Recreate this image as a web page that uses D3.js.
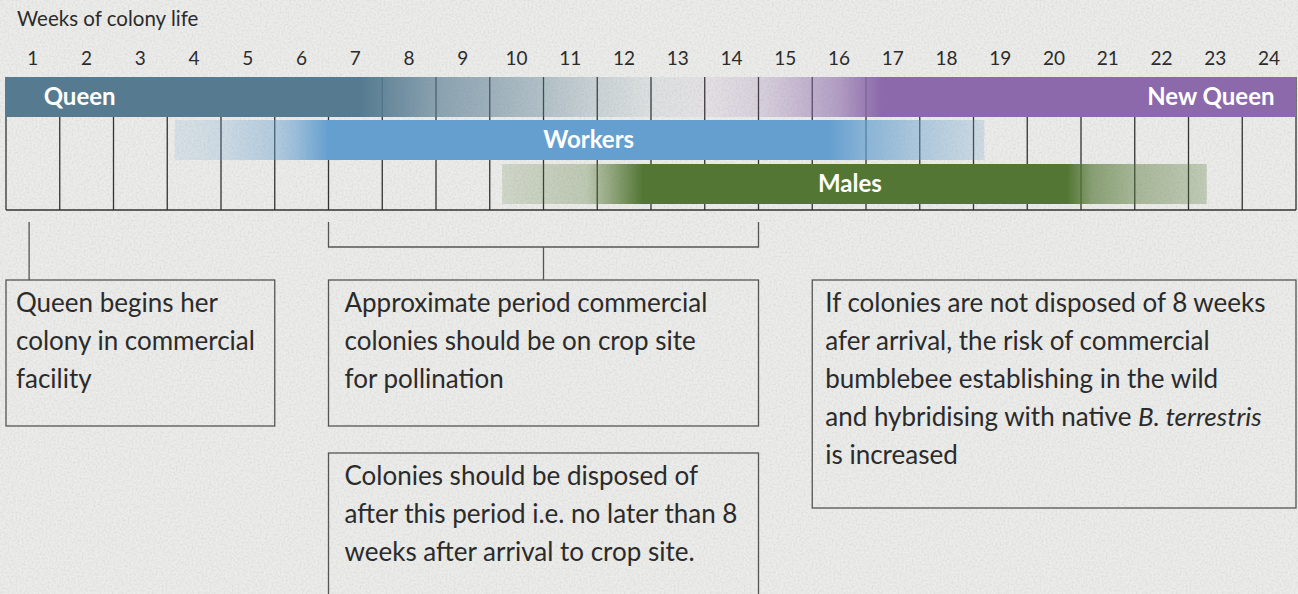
<!DOCTYPE html>
<html>
<head>
<meta charset="utf-8">
<script src="https://cdn.jsdelivr.net/npm/d3@7"></script>
<style>
  html, body { margin:0; padding:0; background:#e8e8e6; }
  svg { display:block; font-family: Lato, "Open Sans", sans-serif; }
</style>
</head>
<body>
<div id="chart"></div>
<script>
// week labels along the top
const weekLabels = ['1','2','3','4','5','6','7','8','9','10','11','12','13','14','15','16','17','18','19','20','21','22','23','24'];

// bars: [week position, opacity] stops
const queenStops = [[0,1],[6.6,1],[7.4,0.8],[8,0.65],[9,0.52],[10,0.38],[11,0.22],[12,0.1],[13,0]];
const newQueenStops = [[12,0],[13,0.08],[14,0.2],[14.6,0.35],[15.5,0.6],[16.3,1],[24,1]];
const workerStops = [[3.14,0.15],[4,0.22],[5,0.42],[5.4,0.6],[6,1],[15.3,1],[16,0.72],[17,0.45],[18.2,0.22]];
const maleStops = [[9.23,0.18],[10.8,0.3],[11.2,0.55],[11.85,1],[19.74,1],[20.2,0.65],[21,0.45],[22.34,0.28]];

const bars = [
  {name:'Queen', row:0, color:'#567b91', stops:queenStops, label:'Queen', labelAt:0.7, anchor:'start'},
  {name:'NewQueen', row:0, color:'#8b69aa', stops:newQueenStops, label:'New Queen', labelAt:23.6, anchor:'end'},
  {name:'Workers', row:1, color:'#659fcf', stops:workerStops, label:'Workers', labelAt:10.84, anchor:'middle'},
  {name:'Males', row:2, color:'#537634', stops:maleStops, label:'Males', labelAt:15.7, anchor:'middle'}
];

// bracket marks under the grid (week positions)
const singleMarks = [0.43];
const rangeMarks = [[6,14]];

// note boxes: week span, row (0 = upper, 1 = lower), text inset and lines
const notes = [
  {from:0, to:5, row:0, pad:10, lines:[['Queen begins her'],['colony in commercial'],['facility']]},
  {from:6, to:14, row:0, pad:16, lines:[['Approximate period commercial'],['colonies should be on crop site'],['for pollination']]},
  {from:6, to:14, row:1, pad:16, lines:[['Colonies should be disposed of'],['after this period i.e. no later than 8'],['weeks after arrival to crop site.']]},
  {from:15, to:24, row:0, pad:13, lines:[['If colonies are not disposed of 8 weeks'],['afer arrival, the risk of commercial'],['bumblebee establishing in the wild'],['and hybridising with native ', {t:'B. terrestris', i:true}],['is increased']]}
];

const width = 1298, height = 594;
const gridTop = 77, gridBottom = 210, barH = 40;
const rowY = [77, 120, 164];

const x = d3.scaleLinear().domain([0, 24]).range([6, 1296]);

const svg = d3.select('#chart').append('svg')
  .attr('width', width).attr('height', height);
const defs = svg.append('defs');

// paper texture
const paper = defs.append('filter').attr('id', 'paper')
  .attr('x', 0).attr('y', 0).attr('width', '100%').attr('height', '100%');
paper.append('feTurbulence').attr('type', 'fractalNoise')
  .attr('baseFrequency', 0.5).attr('numOctaves', 3).attr('seed', 4).attr('result', 'noise');
paper.append('feColorMatrix').attr('in', 'noise').attr('type', 'matrix')
  .attr('values', '0 0 0 0 0.5  0 0 0 0 0.5  0 0 0 0 0.49  0 0 0 -1.6 1.0');

svg.append('rect').attr('width', width).attr('height', height).attr('fill', '#ececea');
svg.append('rect').attr('width', width).attr('height', height).attr('filter', 'url(#paper)').attr('opacity', 0.4);

// title
svg.append('text')
  .attr('x', 17).attr('y', 26)
  .attr('font-size', 20.5).attr('fill', '#2b2b2b')
  .text('Weeks of colony life');

// week numbers
svg.append('g').selectAll('text').data(weekLabels).enter().append('text')
  .attr('x', (d, i) => x(i + 0.5))
  .attr('y', 65)
  .attr('text-anchor', 'middle')
  .attr('font-size', 19).attr('fill', '#2b2b2b')
  .text(d => d);

// grid
const grid = svg.append('g').attr('stroke', '#333').attr('stroke-width', 1.3);
grid.selectAll('line.v').data(d3.range(weekLabels.length + 1)).enter().append('line')
  .attr('class', 'v')
  .attr('x1', d => x(d)).attr('x2', d => x(d))
  .attr('y1', gridTop).attr('y2', gridBottom);
grid.append('line')
  .attr('x1', x(0)).attr('x2', x(24))
  .attr('y1', gridBottom).attr('y2', gridBottom);

// bars with opacity gradients
bars.forEach(function(b) {
  const x0 = b.stops[0][0], x1 = b.stops[b.stops.length - 1][0];
  const grad = defs.append('linearGradient')
    .attr('id', 'g-' + b.name)
    .attr('gradientUnits', 'userSpaceOnUse')
    .attr('x1', x(x0)).attr('x2', x(x1)).attr('y1', 0).attr('y2', 0);
  grad.selectAll('stop').data(b.stops).enter().append('stop')
    .attr('offset', d => (d[0] - x0) / (x1 - x0))
    .attr('stop-color', b.color)
    .attr('stop-opacity', d => d[1]);
  svg.append('rect')
    .attr('x', x(x0)).attr('y', rowY[b.row])
    .attr('width', x(x1) - x(x0)).attr('height', barH)
    .attr('fill', 'url(#g-' + b.name + ')');
});

svg.append('g').selectAll('text').data(bars).enter().append('text')
  .attr('x', d => x(d.labelAt))
  .attr('y', d => rowY[d.row] + 28)
  .attr('text-anchor', d => d.anchor)
  .attr('font-size', 24).attr('font-weight', 700).attr('fill', '#fff')
  .text(d => d.label);

// brackets
const br = svg.append('g').attr('stroke', '#555').attr('stroke-width', 1.3).attr('fill', 'none');
singleMarks.forEach(function(m) {
  br.append('line').attr('x1', x(m)).attr('x2', x(m)).attr('y1', 222).attr('y2', 280);
});
rangeMarks.forEach(function(r) {
  br.append('path').attr('d', `M${x(r[0])},222V247H${x(r[1])}V222`);
  const mid = x((r[0] + r[1]) / 2);
  br.append('line').attr('x1', mid).attr('x2', mid).attr('y1', 247).attr('y2', 280);
});

// note boxes
const boxTop = [280, 453];
notes.forEach(function(n) {
  const g = svg.append('g');
  const h = n.row === 1 ? 160 : (n.lines.length > 3 ? 228 : 146);
  g.append('rect')
    .attr('x', x(n.from)).attr('y', boxTop[n.row])
    .attr('width', x(n.to) - x(n.from)).attr('height', h)
    .attr('fill', 'none').attr('stroke', '#555').attr('stroke-width', 1.3);
  const t = g.append('text').attr('font-size', 26).attr('fill', '#2b2b2b');
  n.lines.forEach(function(line, i) {
    line.forEach(function(part, j) {
      const ts = t.append('tspan');
      if (j === 0) ts.attr('x', x(n.from) + n.pad).attr('y', boxTop[n.row] + 32 + i * 38);
      if (typeof part === 'string') ts.text(part);
      else ts.text(part.t).attr('font-style', part.i ? 'italic' : null);
    });
  });
});
</script>
</body>
</html>
